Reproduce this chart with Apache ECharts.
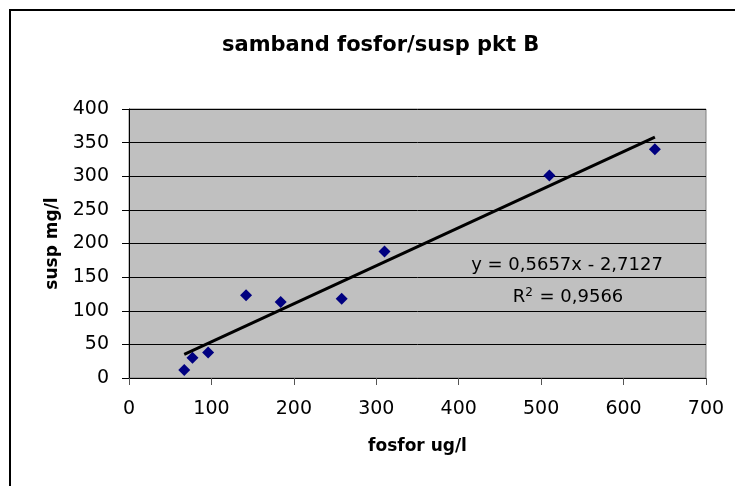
<!DOCTYPE html>
<html>
<head>
<meta charset="utf-8">
<script src="https://cdn.jsdelivr.net/npm/echarts@6/dist/echarts.min.js"></script>
<style>
    html, body { margin: 0; padding: 0; background: #fff; overflow: hidden; }
    #chartScatter { width: 735px; height: 486px; }
</style>
</head>
<body>
<div id="chartScatter"></div>
<script>
    // values
    var fosfor = [67, 77, 96, 142, 184, 258, 310, 510, 638];
    var susp = [12, 30, 38, 123, 113, 118, 188, 301, 340];
    // trend line as printed on the chart
    var slope = 0.5657;
    var intercept = -2.7127;
    var rSquared = '0,9566';
    var xTicks = [0, 700, 100];
    var yTicks = [0, 400, 50];

    var font = 'DejaVu Sans';

    var points = fosfor.map(function (x, i) { return [x, susp[i]]; });
    var xMin = Math.min.apply(null, fosfor);
    var xMax = Math.max.apply(null, fosfor);
    var trend = [[xMin, slope * xMin + intercept], [xMax, slope * xMax + intercept]];

    var chart = echarts.init(document.getElementById('chartScatter'));
    chart.setOption({
        animation: false,
        backgroundColor: '#fff',
        title: {
            text: 'samband fosfor/susp pkt B',
            left: 217,
            top: 30,
            textStyle: { fontFamily: font, fontSize: 21, fontWeight: 'bold', color: '#000' }
        },
        grid: {
            left: 129, top: 109, right: 29, bottom: 108,
            show: true,
            backgroundColor: '#c0c0c0',
            borderColor: '#808080',
            borderWidth: 1
        },
        xAxis: {
            type: 'value',
            min: xTicks[0], max: xTicks[1], interval: xTicks[2],
            name: 'fosfor ug/l',
            nameLocation: 'middle',
            nameGap: 60,
            nameTextStyle: { fontFamily: font, fontSize: 17, fontWeight: 'bold', color: '#000' },
            axisLine: { lineStyle: { color: '#000', width: 1 } },
            axisTick: { length: 7, lineStyle: { color: '#555' } },
            axisLabel: { margin: 22, fontFamily: font, fontSize: 19, color: '#000' },
            splitLine: { show: false }
        },
        yAxis: {
            type: 'value',
            min: yTicks[0], max: yTicks[1], interval: yTicks[2],
            name: 'susp mg/l',
            nameLocation: 'middle',
            nameGap: 68,
            nameTextStyle: { fontFamily: font, fontSize: 17, fontWeight: 'bold', color: '#000' },
            axisLine: { show: true, lineStyle: { color: '#000', width: 1 } },
            axisTick: { show: true, length: 7, lineStyle: { color: '#000' } },
            axisLabel: { margin: 20, fontFamily: font, fontSize: 19, color: '#000' },
            splitLine: { show: true, lineStyle: { color: '#000', width: 1 } }
        },
        series: [
            {
                name: 'susp',
                type: 'scatter',
                data: points,
                symbol: 'diamond',
                symbolSize: 12,
                itemStyle: { color: '#000080', opacity: 1 }
            },
            {
                name: 'trend',
                type: 'line',
                data: trend,
                symbol: 'none',
                lineStyle: { color: '#000', width: 3 },
                z: 3
            }
        ],
        graphic: [
            // chart frame, only the left and top edges fall inside the picture
            {
                type: 'line',
                shape: { x1: 10, y1: 9, x2: 10, y2: 486 },
                style: { stroke: '#000', lineWidth: 2 },
                silent: true
            },
            {
                type: 'line',
                shape: { x1: 9, y1: 10, x2: 735, y2: 10 },
                style: { stroke: '#000', lineWidth: 2 },
                silent: true
            },
            {
                type: 'text',
                x: 567, y: 265,
                style: {
                    text: 'y = 0,5657x - 2,7127',
                    font: '18px "DejaVu Sans"',
                    fill: '#000',
                    align: 'center',
                    verticalAlign: 'middle'
                },
                z: 10
            },
            {
                type: 'text',
                x: 568, y: 297,
                style: {
                    text: 'R{sup|2} = ' + rSquared,
                    font: '18px "DejaVu Sans"',
                    fill: '#000',
                    align: 'center',
                    verticalAlign: 'middle',
                    rich: {
                        sup: { fontFamily: font, fontSize: 12, fill: '#000', verticalAlign: 'top', padding: [0, 1, 8, 0] }
                    }
                },
                z: 10
            }
        ]
    });
</script>
</body>
</html>
